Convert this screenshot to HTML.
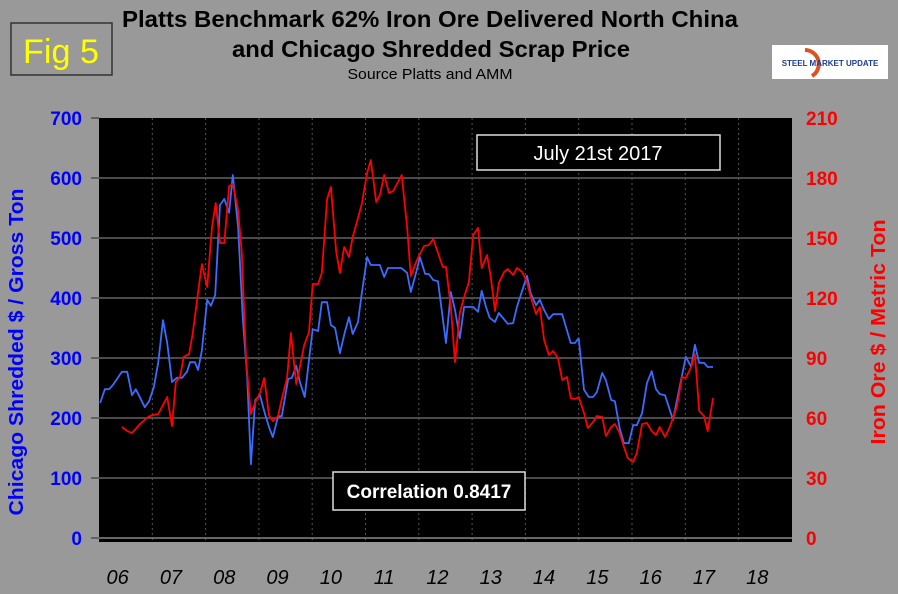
<!DOCTYPE html>
<html><head><meta charset="utf-8"><style>
body{margin:0;background:#999;}
svg{display:block;font-family:"Liberation Sans",sans-serif;}
</style></head><body>
<svg id="c" width="898" height="594" viewBox="0 0 898 594">
<rect x="0" y="0" width="898" height="594" fill="#999"/>
<g><rect x="11" y="23" width="101" height="52" fill="#999" stroke="#333" stroke-width="1.5"/><text x="61" y="63" font-size="34" fill="#ffff00" text-anchor="middle" textLength="76" lengthAdjust="spacingAndGlyphs">Fig 5</text></g>
<text x="430" y="27" font-size="23" font-weight="bold" text-anchor="middle" fill="#000" textLength="616" lengthAdjust="spacingAndGlyphs">Platts Benchmark 62% Iron Ore Delivered North China</text>
<text x="431" y="57" font-size="23" font-weight="bold" text-anchor="middle" fill="#000" textLength="398" lengthAdjust="spacingAndGlyphs">and Chicago Shredded Scrap Price</text>
<text x="430" y="79" font-size="15" text-anchor="middle" fill="#000" textLength="165" lengthAdjust="spacingAndGlyphs">Source Platts and AMM</text>
<g><rect x="772" y="45" width="116" height="34" fill="#fff"/><path d="M805 50 A14 14 0 0 1 812 76" fill="none" stroke="#e05020" stroke-width="4"/><text x="830" y="66" font-size="8" font-weight="bold" fill="#1a3c8c" text-anchor="middle">STEEL MARKET UPDATE</text></g>
<rect x="99" y="118" width="693" height="424" fill="#000"/>
<g id="grid"></g>
<g id="axes"></g>
<g id="series"></g>
<g><rect x="477" y="135" width="243" height="35" fill="#000" stroke="#ddd" stroke-width="1.5"/><text x="598" y="160" font-size="20" fill="#fff" text-anchor="middle">July 21st 2017</text></g>
<g><rect x="333" y="472" width="192" height="38" fill="#000" stroke="#ddd" stroke-width="1.5"/><text x="429" y="498" font-size="19" font-weight="bold" fill="#fff" text-anchor="middle">Correlation 0.8417</text></g>
<text transform="translate(23,352) rotate(-90)" font-size="20" font-weight="bold" fill="#0000ff" text-anchor="middle" textLength="327" lengthAdjust="spacingAndGlyphs">Chicago Shredded $ / Gross Ton</text>
<text transform="translate(885,332) rotate(-90)" font-size="20" font-weight="bold" fill="#ff0000" text-anchor="middle" textLength="225" lengthAdjust="spacingAndGlyphs">Iron Ore $ / Metric Ton</text>
</svg>
<script>
const yearLabels=["06","07","08","09","10","11","12","13","14","15","16","17","18"];
const leftTicks=[0,100,200,300,400,500,600,700];
const rightTicks=[0,30,60,90,120,150,180,210];
const scrapDates=[.02,.11,.19,.26,.43,.53,.62,.69,.86,.94,1.03,1.11,1.20,1.28,1.37,1.46,1.56,1.65,1.71,1.80,1.86,1.93,2.03,2.10,2.18,2.27,2.35,2.44,2.51,2.61,2.70,2.78,2.85,2.93,3.02,3.11,3.19,3.26,3.36,3.43,3.55,3.62,3.70,3.77,3.86,3.94,4.01,4.11,4.18,4.28,4.35,4.43,4.52,4.61,4.69,4.76,4.86,4.93,5.03,5.10,5.27,5.35,5.42,5.67,5.78,5.85,5.95,6.02,6.12,6.19,6.27,6.36,6.43,6.51,6.60,6.68,6.77,6.85,7.02,7.11,7.18,7.26,7.33,7.43,7.50,7.67,7.77,7.84,8.03,8.10,8.20,8.27,8.35,8.44,8.52,8.69,8.76,8.85,8.93,9.00,9.10,9.19,9.27,9.34,9.44,9.51,9.61,9.68,9.77,9.85,9.94,10.02,10.09,10.19,10.28,10.37,10.45,10.52,10.62,10.77,11.01,11.11,11.18,11.26,11.35,11.42,11.52];
const scrapValues=[225,248,248,255,277,277,238,248,218,228,252,292,363,325,260,267,267,277,293,293,280,313,397,387,405,555,565,542,605,518,363,268,123,230,238,208,185,168,203,203,265,267,287,260,235,297,348,345,393,393,355,350,308,342,368,340,360,408,468,455,455,435,450,450,442,410,442,468,440,440,430,428,380,325,410,380,333,385,385,377,412,385,367,360,375,357,358,385,437,408,388,397,380,365,373,373,352,325,325,333,247,235,235,243,275,263,230,228,183,158,158,188,188,208,258,278,248,240,238,197,302,285,322,292,292,285,285];
const oreDates=[.43,.53,.62,.77,.92,1.01,1.11,1.28,1.37,1.44,1.52,1.59,1.69,1.76,1.86,1.93,2.03,2.12,2.19,2.27,2.35,2.44,2.51,2.61,2.68,2.76,2.85,2.95,3.02,3.10,3.19,3.26,3.36,3.43,3.53,3.60,3.70,3.77,3.85,3.94,4.01,4.11,4.18,4.28,4.35,4.45,4.52,4.60,4.69,4.76,4.86,4.93,5.03,5.10,5.20,5.27,5.35,5.44,5.52,5.68,5.78,5.85,5.95,6.02,6.10,6.19,6.27,6.36,6.45,6.51,6.60,6.68,6.77,6.85,6.94,7.02,7.11,7.18,7.28,7.35,7.43,7.50,7.60,7.67,7.77,7.84,7.94,8.03,8.10,8.20,8.27,8.35,8.44,8.52,8.61,8.69,8.78,8.85,8.93,9.00,9.10,9.17,9.27,9.34,9.44,9.51,9.61,9.68,9.76,9.85,9.92,10.02,10.09,10.19,10.28,10.37,10.45,10.52,10.62,10.71,10.84,10.94,11.01,11.11,11.18,11.26,11.35,11.42,11.52];
const oreValues=[55.5,53.5,52.5,57,60.5,61.5,62,70.5,56,78,80.5,90.5,92,102.5,123,137,125.5,155.5,167.5,147.5,147.5,176,177,164,142.5,89,62,69,72.5,80,61.5,58.5,61,69.5,80,102.5,77,85.5,96.5,103,127,127,132.5,169.5,175.5,143,132.5,145.5,140.5,150.5,160,167,182.5,189,168,171.5,181.5,172.5,173.5,181.5,155.5,131,138,142,146,146.5,149.5,142.5,135.5,135.5,115.5,88,112.5,120.5,128,151.5,155,135,141.5,130.5,113.5,127.5,133,134.5,131.5,135,133,128,120.5,112,115.5,99,91.5,93.5,90,79,80.5,70,69.5,70.5,62.5,55,58,61,60.5,51,55.5,57,53,45.5,40,38,42.5,57,57.5,53.5,51.5,55.5,50.5,55.5,65.5,80.5,80,85.5,92,63.5,61,53.5,70];

const NS="http://www.w3.org/2000/svg";
const X0=99,XW=53.3,Y0=538;
function xs(t){return X0+t*XW;}
function yL(v){return Y0-v*0.6;}
function yR(v){return Y0-v*2;}
function mk(tag,attrs,parent){const e=document.createElementNS(NS,tag);for(const k in attrs)e.setAttribute(k,attrs[k]);parent.appendChild(e);return e;}
const grid=document.getElementById('grid'),axes=document.getElementById('axes'),series=document.getElementById('series');
leftTicks.forEach((v,i)=>{
  if(v>0&&v<700){const l=mk('line',{x1:99,x2:792,y1:yL(v),y2:yL(v),stroke:'#777','stroke-width':1.3},grid);
  
  }
  const tk=mk('line',{x1:91,x2:99,y1:yL(v),y2:yL(v),stroke:'#444','stroke-width':1.3},axes);
  
  
  const t=mk('text',{x:82,y:yL(v)+7,'font-size':19,'font-weight':'bold',fill:'#0000ff','text-anchor':'end'},axes);t.textContent=v;
  
  
});
rightTicks.forEach(v=>{
  const t=mk('text',{x:806,y:yR(v)+7,'font-size':19,'font-weight':'bold',fill:'#ff0000','text-anchor':'start'},axes);t.textContent=v;
  
  
});
yearLabels.forEach((lab,i)=>{
  if(i>0){const l=mk('line',{x1:xs(i),x2:xs(i),y1:118,y2:542,stroke:'#555','stroke-dasharray':'2,3'},grid);
  
  }
  const t=mk('text',{x:xs(i)+XW/2-8,y:584,'font-size':20,'font-style':'italic',fill:'#000','text-anchor':'middle'},axes);t.textContent=lab;
  
  
});
const ax=mk('line',{x1:99,x2:792,y1:Y0,y2:Y0,stroke:'#888','stroke-width':1.5},axes);


function line(d,v,fy,col,name){
  const pts=d.map((t,i)=>xs(t).toFixed(1)+','+fy(v[i]).toFixed(1)).join(' ');
  const p=mk('polyline',{points:pts,fill:'none',stroke:col,'stroke-width':1.8,'stroke-linejoin':'round'},series);
  
  
}
line(scrapDates,scrapValues,yL,'#3a6cff','scrap-price-line');
line(oreDates,oreValues,yR,'#ff0000','iron-ore-price-line');
</script>
</body></html>
